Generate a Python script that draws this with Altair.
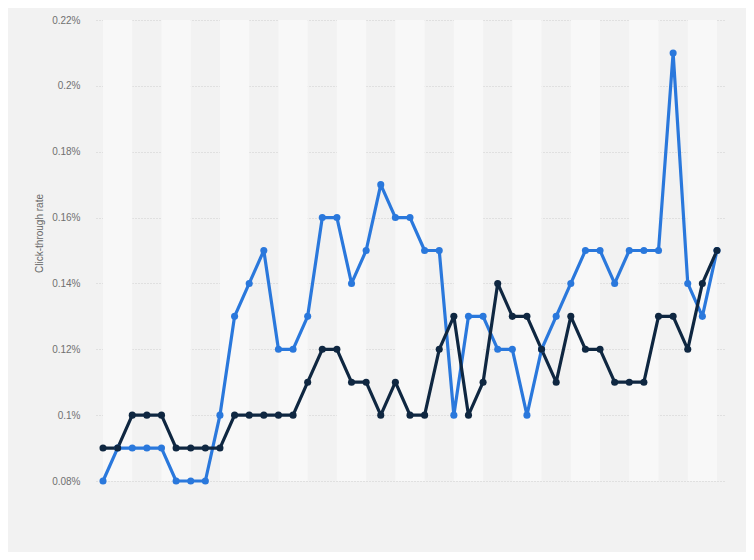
import altair as alt
import pandas as pd

idx = list(range(1, 44))
blue = [0.08, 0.09, 0.09, 0.09, 0.09, 0.08, 0.08, 0.08, 0.10, 0.13,
        0.14, 0.15, 0.12, 0.12, 0.13, 0.16, 0.16, 0.14, 0.15, 0.17,
        0.16, 0.16, 0.15, 0.15, 0.10, 0.13, 0.13, 0.12, 0.12, 0.10,
        0.12, 0.13, 0.14, 0.15, 0.15, 0.14, 0.15, 0.15, 0.15, 0.21,
        0.14, 0.13, 0.15]
navy = [0.09, 0.09, 0.10, 0.10, 0.10, 0.09, 0.09, 0.09, 0.09, 0.10,
        0.10, 0.10, 0.10, 0.10, 0.11, 0.12, 0.12, 0.11, 0.11, 0.10,
        0.11, 0.10, 0.10, 0.12, 0.13, 0.10, 0.11, 0.14, 0.13, 0.13,
        0.12, 0.11, 0.13, 0.12, 0.12, 0.11, 0.11, 0.11, 0.13, 0.13,
        0.12, 0.14, 0.15]
series_names = ["Series A", "Series B"]
series_colors = ["#2a78dc", "#0f2741"]
y_ticks = [0.08, 0.10, 0.12, 0.14, 0.16, 0.18, 0.20, 0.22]

rows = []
for name, vals in zip(series_names, [blue, navy]):
    for i, v in zip(idx, vals):
        rows.append({"i": i, "v": v, "s": name})
df = pd.DataFrame(rows)

bands = pd.DataFrame({"b0": idx[0:-1:4], "b1": [b + 2 for b in idx[0:-1:4]]})

xscale = alt.Scale(domain=[0.52, 43.48], nice=False, zero=False)
yscale = alt.Scale(domain=[0.08, 0.22], nice=False, zero=False)

band_layer = alt.Chart(bands).mark_rect(color="#f8f8f8").encode(
    x=alt.X("b0:Q", scale=xscale, axis=None),
    x2="b1:Q",
    y=alt.value(0),
    y2=alt.value(461),
)

yaxis = alt.Axis(
    values=y_ticks,
    labelExpr="format(datum.value, '.2~f') + '%'",
    title="Click-through rate",
    titleFont="Liberation Sans",
    titleFontSize=10,
    titleFontWeight="normal",
    titleColor="#666666",
    titleAngle=-90,
    titleX=-57,
    titleY=213,
    titleAlign="center",
    titleBaseline="middle",
    labelFont="Liberation Sans",
    labelFontSize=10,
    labelColor="#707070",
    labelPadding=16,
    ticks=False,
    tickSize=0,
    domain=False,
    grid=True,
    gridColor="#cfcfcf",
    gridDash=[1, 2],
    gridWidth=1,
)

base = alt.Chart(df).encode(
    x=alt.X("i:Q", scale=xscale, axis=None),
    y=alt.Y("v:Q", scale=yscale, axis=yaxis),
    color=alt.Color("s:N", scale=alt.Scale(domain=series_names, range=series_colors), legend=None),
)

lines = base.mark_line(strokeWidth=3.2, strokeJoin="round")
points = base.mark_point(filled=True, size=50, opacity=1)

chart = alt.layer(band_layer, lines, points).properties(
    width=628,
    height=461,
    background="#f2f2f2",
    padding={"left": 88, "top": 12, "right": 22, "bottom": 71},
    autosize=alt.AutoSizeParams(type="none"),
).configure_view(stroke=None, fill="#f2f2f2")

chart.save("out.html", embed_options={"renderer": "svg", "actions": False})
